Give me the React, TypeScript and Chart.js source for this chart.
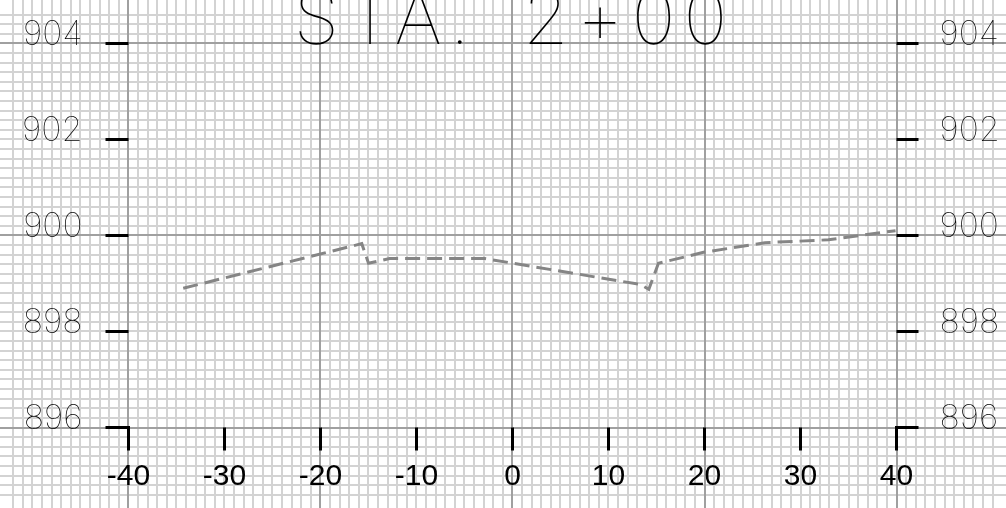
import React, { useEffect, useRef } from "react";
import { Chart, registerables } from "chart.js";

Chart.register(...registerables);

// ---- data ----
const TITLE = "STA. 2+00";
const profileX = [-34.3, -15.7, -15.0, -12.8, -2.9, 13.3, 14.2, 15.2, 19.9, 26.3, 32.9, 39.9];
const profileY = [898.9, 899.83, 899.42, 899.52, 899.52, 898.98, 898.88, 899.42, 899.65, 899.85, 899.91, 900.1];
const xTickLabels = [-40, -30, -20, -10, 0, 10, 20, 30, 40];
const yTickLabels = [896, 898, 900, 902, 904];

// ---- scale ranges (grid fills whole canvas) ----
const X_MIN = -53.385;
const X_MAX = 51.406;
const Y_MIN = 894.323;
const Y_MAX = 904.906;
const X_MINOR_STEP = 1;
const X_MAJOR_STEP = 20;
const Y_MINOR_STEP = 0.2;
const Y_MAJOR_STEP = 4;

const MINOR = "#d3d3d3";
const MAJOR = "#a0a0a0";
const THIN_FONT = "Inter, Roboto, Lato, sans-serif";

const isMult = (v: number, m: number) => Math.abs(v / m - Math.round(v / m)) < 1e-6;

const gridScale = (axis: "x" | "y", min: number, max: number, step: number, color: string) => ({
  type: "linear",
  axis,
  position: axis === "x" ? "bottom" : "left",
  min,
  max,
  ticks: { display: false, stepSize: step },
  border: { display: false },
  grid: {
    drawTicks: false,
    lineWidth: 2,
    color: (c: any) => {
      const v = c.tick?.value;
      return v !== undefined && isMult(v, step) ? color : "rgba(0,0,0,0)";
    },
  },
});

const overlay = {
  id: "overlay",
  afterDraw(chart: any) {
    const { ctx } = chart;
    const xs = chart.scales.x;
    const ys = chart.scales.y;
    const xLeft = xs.getPixelForValue(xTickLabels[0]);
    const xRight = xs.getPixelForValue(xTickLabels[xTickLabels.length - 1]);
    const yBottom = ys.getPixelForValue(yTickLabels[0]);
    ctx.save();
    // tick marks
    ctx.strokeStyle = "#000";
    ctx.lineWidth = 3;
    ctx.lineCap = "butt";
    ctx.lineJoin = "miter";
    yTickLabels.forEach((v) => {
      const py = ys.getPixelForValue(v);
      ctx.beginPath();
      ctx.moveTo(xLeft - 23, py);
      ctx.lineTo(xLeft, py);
      if (v === yTickLabels[0]) ctx.lineTo(xLeft, py + 23);
      ctx.stroke();
      ctx.beginPath();
      if (v === yTickLabels[0]) {
        ctx.moveTo(xRight, py + 23);
        ctx.lineTo(xRight, py);
      } else {
        ctx.moveTo(xRight, py);
      }
      ctx.lineTo(xRight + 22, py);
      ctx.stroke();
    });
    xTickLabels.slice(1, -1).forEach((v) => {
      const px = xs.getPixelForValue(v);
      ctx.beginPath();
      ctx.moveTo(px, yBottom);
      ctx.lineTo(px, yBottom + 23);
      ctx.stroke();
    });
    // y labels
    ctx.fillStyle = "#000";
    ctx.textBaseline = "alphabetic";
    ctx.font = `100 34px ${THIN_FONT}`;
    yTickLabels.forEach((v) => {
      const py = ys.getPixelForValue(v) + 1.5;
      ctx.textAlign = "right";
      ctx.fillText(String(v), xLeft - 46, py);
      ctx.textAlign = "left";
      ctx.fillText(String(v), xRight + 43, py);
    });
    // x labels
    ctx.font = '30px "Liberation Sans", Arial, sans-serif';
    ctx.textAlign = "center";
    xTickLabels.forEach((v) => {
      ctx.fillText(String(v), xs.getPixelForValue(v), yBottom + 57.5);
    });
    // title
    ctx.font = `100 74px ${THIN_FONT}`;
    (ctx as any).letterSpacing = "8px";
    (ctx as any).wordSpacing = "16px";
    ctx.textAlign = "left";
    const w = ctx.measureText(TITLE).width;
    const cx = xs.getPixelForValue(0);
    ctx.fillText(TITLE, cx - (w - 8) / 2 - 2, ys.getPixelForValue(yTickLabels[yTickLabels.length - 1]) + 1);
    ctx.restore();
  },
};

export default function App() {
  const ref = useRef<HTMLCanvasElement | null>(null);
  useEffect(() => {
    if (!ref.current) return;
    const chart = new Chart(ref.current, {
      type: "line",
      data: {
        datasets: [
          {
            data: profileX.map((x, i) => ({ x, y: profileY[i] })),
            xAxisID: "x",
            yAxisID: "y",
            borderColor: "#858585",
            borderWidth: 3,
            borderDash: [15, 7],
            pointRadius: 0,
            fill: false,
            tension: 0,
          },
        ],
      },
      options: {
        animation: false,
        responsive: true,
        maintainAspectRatio: false,
        layout: { padding: 0 },
        plugins: { legend: { display: false }, tooltip: { enabled: false }, title: { display: false } },
        scales: {
          x: gridScale("x", X_MIN, X_MAX, X_MINOR_STEP, MINOR),
          y: gridScale("y", Y_MIN, Y_MAX, Y_MINOR_STEP, MINOR),
          xMajor: gridScale("x", X_MIN, X_MAX, X_MAJOR_STEP, MAJOR),
          yMajor: gridScale("y", Y_MIN, Y_MAX, Y_MAJOR_STEP, MAJOR),
        } as any,
      },
      plugins: [overlay],
    });
    return () => chart.destroy();
  }, []);
  return (
    <div style={{ position: "fixed", left: 0, top: 0, width: 1006, height: 508, background: "#fff" }}>
      <canvas ref={ref} />
    </div>
  );
}
